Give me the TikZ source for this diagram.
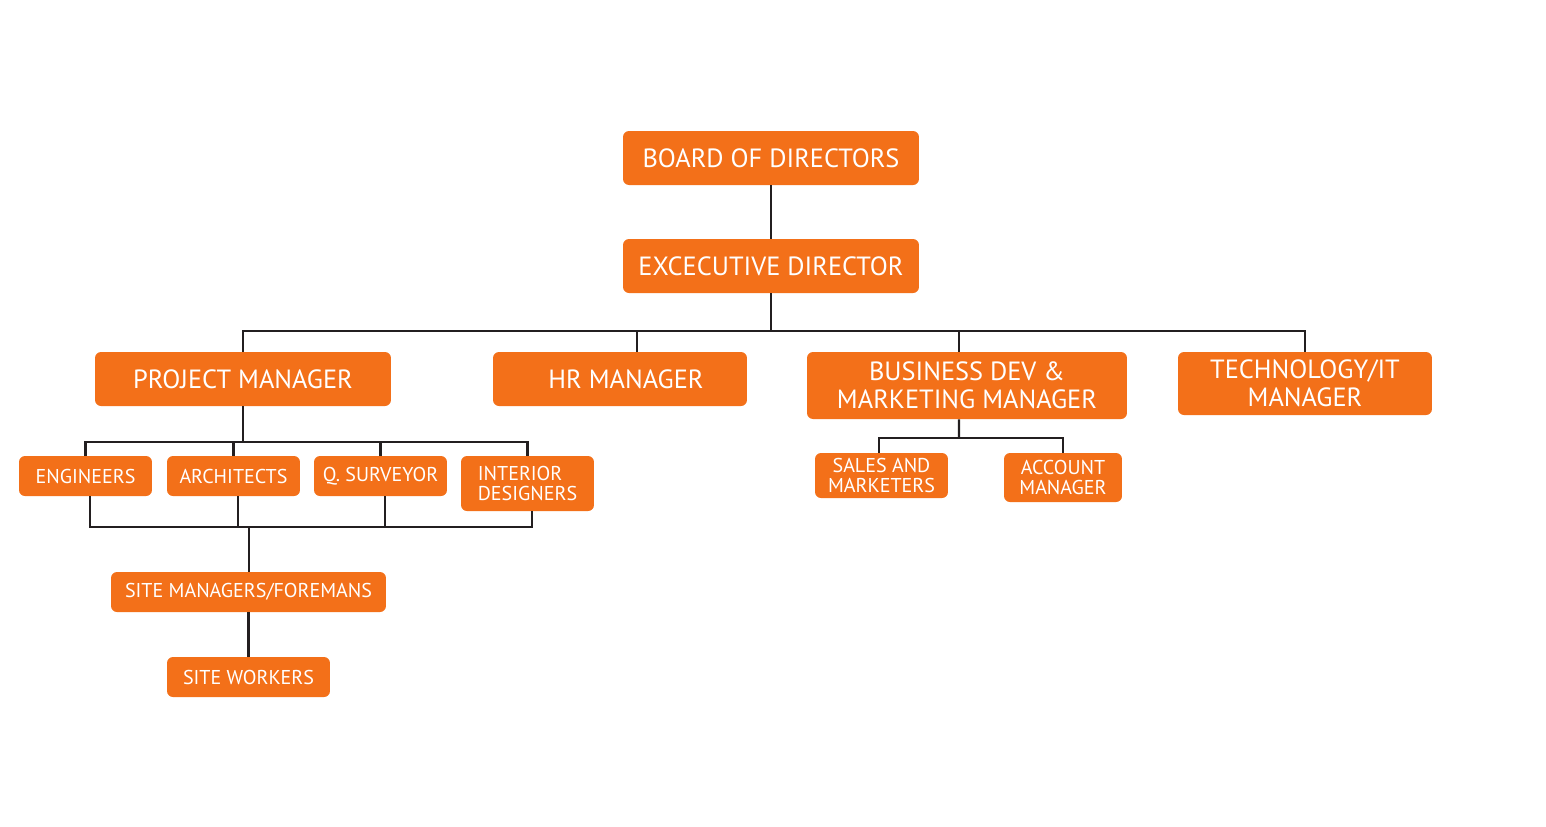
\documentclass[tikz,border=0pt]{standalone}
\usepackage{fontspec}
\setmainfont{PT Sans}
\definecolor{boxorange}{HTML}{F37019}
\definecolor{linegray}{HTML}{231F20}
\tikzset{
  orgbox/.style={fill=boxorange, text=white, rounded corners=3.4pt, inner sep=0pt, align=center},
  bigbox/.style={orgbox, font=\fontsize{15}{16}\selectfont},
  smallbox/.style={orgbox, font=\fontsize{11.4}{11.6}\selectfont},
  orgline/.style={draw=linegray, line width=1.4pt}
}
\begin{document}
\begin{tikzpicture}[x=0.02cm, y=-0.02cm]
\useasboundingbox (0,0) rectangle (1546,826);
\node[bigbox, minimum width=5.92cm, minimum height=1.08cm] (board) at (771,158) {BOARD OF DIRECTORS};
\node[bigbox, minimum width=5.92cm, minimum height=1.08cm] (exec) at (771,266) {\raisebox{-1pt}{EXCECUTIVE DIRECTOR}};
\node[bigbox, minimum width=5.92cm, minimum height=1.08cm] (pm) at (243,379) {\raisebox{-1pt}{PROJECT MANAGER}};
\node[bigbox, minimum width=5.08cm, minimum height=1.08cm] (hr) at (620,379) {\hspace{0.24cm}\raisebox{-1pt}{HR MANAGER}};
\node[bigbox, minimum width=6.4cm, minimum height=1.34cm] (biz) at (967,385.5) {BUSINESS DEV \&\\MARKETING MANAGER};
\node[bigbox, minimum width=5.08cm, minimum height=1.26cm, text depth=-2pt] (tech) at (1305,383.5) {TECHNOLOGY/IT\\MANAGER};
\node[smallbox, minimum width=2.66cm, minimum height=0.8cm] (eng) at (85.5,476) {\raisebox{-1pt}{ENGINEERS}};
\node[smallbox, minimum width=2.66cm, minimum height=0.8cm] (arch) at (233.5,476) {\raisebox{-1pt}{ARCHITECTS}};
\node[smallbox, minimum width=2.66cm, minimum height=0.8cm] (qs) at (380.5,476) {\raisebox{-1pt}{Q. SURVEYOR}};
\node[smallbox, minimum width=2.66cm, minimum height=1.1cm, align=left] (int) at (527.5,483.5) {INTERIOR\\DESIGNERS};
\node[smallbox, minimum width=5.5cm, minimum height=0.8cm] (sitem) at (248.5,592) {\raisebox{-1pt}{SITE MANAGERS/FOREMANS}};
\node[smallbox, minimum width=3.26cm, minimum height=0.8cm] (sitew) at (248.5,677) {\raisebox{-1pt}{SITE WORKERS}};
\node[smallbox, minimum width=2.66cm, minimum height=0.9cm] (sales) at (881.5,475.5) {SALES AND\\MARKETERS};
\node[smallbox, minimum width=2.36cm, minimum height=0.98cm] (acc) at (1063,477.5) {ACCOUNT\\MANAGER};
\coordinate[] (topbus) at (771,331);
\coordinate[] (pmbus) at (243,442);
\coordinate[] (pmlow) at (249,527);
\coordinate[] (bizbus) at (959,438);
\draw[orgline] (board) -- (exec);
\draw[orgline] (exec) -- (topbus);
\draw[orgline] (pm.north) -- (pm.north |- topbus) -- (tech.north |- topbus) -- (tech.north);
\draw[orgline] ([xshift=0.34cm]hr.north) -- ([xshift=0.34cm]hr.north |- topbus);
\draw[orgline] ([xshift=-0.16cm]biz.north) -- ([xshift=-0.16cm]biz.north |- topbus);
\draw[orgline] (pm.south) -- (pmbus);
\draw[orgline] (eng.north) -- (eng.north |- pmbus) -- (int.north |- pmbus) -- (int.north);
\foreach \p in {arch,qs}
  \draw[orgline] (\p.north) -- (\p.north |- pmbus);
\draw[orgline] ([xshift=0.09cm]eng.south) -- ([xshift=0.09cm]eng.south |- pmlow) -- ([xshift=0.09cm]int.south |- pmlow) -- ([xshift=0.09cm]int.south);
\foreach \p in {arch,qs}
  \draw[orgline] ([xshift=0.09cm]\p.south) -- ([xshift=0.09cm]\p.south |- pmlow);
\draw[orgline] (pmlow) -- (pmlow |- sitem.north);
\draw[orgline] (sitem) -- (sitew);
\draw[orgline] ([xshift=-0.16cm]biz.south) -- (bizbus);
\draw[orgline] ([xshift=-0.05cm]sales.north) -- ([xshift=-0.05cm]sales.north |- bizbus) -- (acc.north |- bizbus) -- (acc.north);
\end{tikzpicture}
\end{document}
